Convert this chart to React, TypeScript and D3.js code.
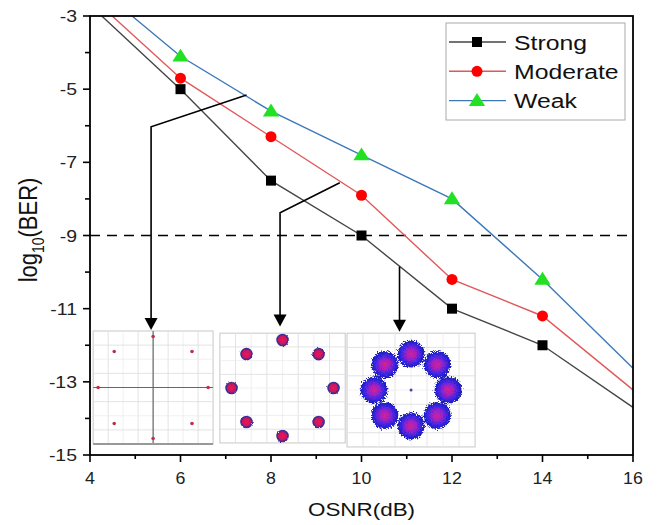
import React from 'react';
import * as d3 from 'd3';

// measured points (OSNR in dB, log10 BER)
const osnr = [6, 8, 10, 12, 14];
const strongBER = [-5, -7.5, -9, -11, -12];
const moderateBER = [-4.7, -6.3, -7.9, -10.2, -11.2];
const weakBER = [-4.1, -5.6, -6.8, -8, -10.2];
// where each curve leaves the frame: top edge (OSNR at -3) and right edge (BER at 16 dB)
const entryOSNR = [4.26, 4.49, 4.93];
const exitBER = [-13.7, -13.22, -12.63];
const seriesNames = ['Strong', 'Moderate', 'Weak'];

const xTicks = [4, 6, 8, 10, 12, 14, 16];
const xMinor = [5, 7, 9, 11, 13, 15];
const yTicks = [-3, -5, -7, -9, -11, -13, -15];
const yMinor = [-4, -6, -8, -10, -12, -14];
const threshold = -9;
const psk8 = [0, 45, 90, 135, 180, 225, 270, 315];

const W = 664;
const H = 525;
const x = d3.scaleLinear().domain([4, 16]).range([90, 633]);
const y = d3.scaleLinear().domain([-15, -3]).range([455, 16]);

const lineColors = ['#454545', '#e0585a', '#3d78b9'];
const markerColors = ['#000000', '#ff0000', '#22e022'];
const font = '"Liberation Sans", Arial, sans-serif';
const SX = 1.18; // the original figure is a little wider than tall

// arrows from the curves to the constellation insets (data units)
const arrows = [
  { from: [7.46, -5.16], corner: [5.35, -6.03], tip: -11.58 },
  { from: [9.52, -7.56], corner: [8.2, -8.38], tip: -11.49 },
  { from: [10.84, -9.85], corner: [10.84, -9.85], tip: -11.63 },
];

// constellation insets (data units for the box, px for ring radius)
const insets = [
  { x0: 4.07, x1: 6.72, y0: -11.61, y1: -14.7, rx: 55, ry: 51, kind: 'dot' },
  { x0: 6.87, x1: 9.64, y0: -11.67, y1: -14.67, rx: 51, ry: 48, kind: 'small' },
  { x0: 9.68, x1: 12.51, y0: -11.67, y1: -14.78, rx: 37, ry: 36, kind: 'big' },
];

function Marker({ i, cx, cy }: { i: number; cx: number; cy: number }) {
  if (i === 0) return <rect x={cx - 5} y={cy - 5} width={10} height={10} fill={markerColors[0]} />;
  if (i === 1) return <circle cx={cx} cy={cy} r={5.5} fill={markerColors[1]} />;
  const sym = d3.symbol(d3.symbolTriangle, 95)();
  return <path d={sym || ''} transform={`translate(${cx},${cy + 1}) scale(1.1,1)`} fill={markerColors[2]} />;
}

function Inset({ inset }: { inset: (typeof insets)[number] }) {
  const bx0 = x(inset.x0);
  const bx1 = x(inset.x1);
  const by0 = y(inset.y0);
  const by1 = y(inset.y1);
  const w = bx1 - bx0;
  const h = by1 - by0;
  const cx = bx0 + w / 2;
  const cy = by0 + h / 2;
  const gx = d3.range(1, 8).map((k) => bx0 + (w * k) / 8);
  const gy = d3.range(1, 8).map((k) => by0 + (h * k) / 8);
  const pts = psk8.map((a) => {
    const r = (a * Math.PI) / 180;
    return [cx + inset.rx * Math.cos(r), cy - inset.ry * Math.sin(r)];
  });
  return (
    <g>
      <rect x={bx0} y={by0} width={w} height={h} fill="#fff" stroke="#c8c8c8" strokeWidth={1} />
      {gx.map((v, k) => (
        <line key={'gx' + k} x1={v} x2={v} y1={by0} y2={by1} stroke={k % 2 ? '#ececec' : '#dcdcdc'} strokeWidth={0.8} />
      ))}
      {gy.map((v, k) => (
        <line key={'gy' + k} x1={bx0} x2={bx1} y1={v} y2={v} stroke={k % 2 ? '#ececec' : '#dcdcdc'} strokeWidth={0.8} />
      ))}
      {inset.kind === 'dot' && (
        <g>
          <line x1={bx0} x2={bx1} y1={cy} y2={cy} stroke="#666" strokeWidth={1.2} />
          <line x1={cx} x2={cx} y1={by0} y2={by1} stroke="#666" strokeWidth={1.2} />
          <line x1={bx0} x2={bx1} y1={by1} y2={by1} stroke="#999" strokeWidth={2} />
          {pts.map((p, k) => (
            <circle key={k} cx={p[0]} cy={p[1]} r={1.8} fill="#c0304a" />
          ))}
        </g>
      )}
      {inset.kind === 'small' &&
        pts.map((p, k) => (
          <circle key={k} cx={p[0]} cy={p[1]} r={5.5} fill="url(#smallBlob)" stroke="#3b2f96" strokeWidth={1.6} filter="url(#roughSmall)" />
        ))}
      {inset.kind === 'big' && (
        <g filter="url(#rough)">
          {pts.map((p, k) => (
            <circle key={k} cx={p[0]} cy={p[1]} r={13.5} fill="url(#bigBlob)" />
          ))}
        </g>
      )}
      {inset.kind === 'big' && <circle cx={cx} cy={cy} r={1.5} fill="#4444aa" />}
    </g>
  );
}

export default function App() {
  const series = [strongBER, moderateBER, weakBER].map((vals, i) => {
    const pts: [number, number][] = [[entryOSNR[i], -3], ...osnr.map((o, k) => [o, vals[k]] as [number, number]), [16, exitBER[i]]];
    return { name: seriesNames[i], vals, pts };
  });
  const line = d3
    .line<[number, number]>()
    .x((d) => x(d[0]))
    .y((d) => y(d[1]));

  return (
    <svg width={W} height={H} style={{ position: 'absolute', left: 0, top: 0, background: '#fff' }} fontFamily={font}>
      <defs>
        <radialGradient id="bigBlob">
          <stop offset="0%" stopColor="#d8208a" />
          <stop offset="40%" stopColor="#9a22c8" />
          <stop offset="75%" stopColor="#3026e6" />
          <stop offset="100%" stopColor="#1c1cb0" />
        </radialGradient>
        <radialGradient id="smallBlob">
          <stop offset="0%" stopColor="#e8145e" />
          <stop offset="100%" stopColor="#c0145a" />
        </radialGradient>
        <filter id="rough" x="-20%" y="-20%" width="140%" height="140%">
          <feTurbulence type="fractalNoise" baseFrequency="0.8" numOctaves={2} seed={4} result="n" />
          <feDisplacementMap in="SourceGraphic" in2="n" scale={7} xChannelSelector="R" yChannelSelector="G" />
        </filter>
        <filter id="roughSmall" x="-30%" y="-30%" width="160%" height="160%">
          <feTurbulence type="fractalNoise" baseFrequency="1.2" numOctaves={1} seed={2} result="n" />
          <feDisplacementMap in="SourceGraphic" in2="n" scale={2.5} xChannelSelector="R" yChannelSelector="G" />
        </filter>
      </defs>

      {/* threshold */}
      <line x1={x(4)} x2={x(16)} y1={y(threshold)} y2={y(threshold)} stroke="#000" strokeWidth={1.6} strokeDasharray="10 7" />

      {/* curves */}
      {series.map((s, i) => (
        <path key={s.name} d={line(s.pts) || ''} fill="none" stroke={lineColors[i]} strokeWidth={1.4} />
      ))}
      {series.map((s, i) =>
        s.vals.map((v, k) => <Marker key={s.name + k} i={i} cx={x(osnr[k])} cy={y(v)} />)
      )}

      {/* arrows */}
      {arrows.map((a, k) => {
        const fx = x(a.from[0]);
        const fy = y(a.from[1]);
        const cx = x(a.corner[0]);
        const cy = y(a.corner[1]);
        const ty = y(a.tip);
        return (
          <g key={'a' + k}>
            <polyline points={`${fx},${fy} ${cx},${cy} ${cx},${ty - 10}`} fill="none" stroke="#000" strokeWidth={1.6} />
            <path d={`M${cx - 6.5},${ty - 12} L${cx + 6.5},${ty - 12} L${cx},${ty} Z`} fill="#000" />
          </g>
        );
      })}

      {/* insets */}
      {insets.map((s, k) => (
        <Inset key={k} inset={s} />
      ))}

      {/* frame and axes */}
      <rect x={x(4)} y={y(-3)} width={x(16) - x(4)} height={y(-15) - y(-3)} fill="none" stroke="#000" strokeWidth={1.8} />

      {xTicks.map((t) => (
        <g key={'xt' + t}>
          <line x1={x(t)} x2={x(t)} y1={y(-15)} y2={y(-15) + 7} stroke="#000" strokeWidth={1.6} />
          <text transform={`translate(${x(t)},${y(-15) + 29}) scale(1.08,1)`} textAnchor="middle" fontSize={16.5} fill="#222">
            {t}
          </text>
        </g>
      ))}
      {xMinor.map((t) => (
        <line key={'xm' + t} x1={x(t)} x2={x(t)} y1={y(-15)} y2={y(-15) + 4} stroke="#000" strokeWidth={1.6} />
      ))}
      {yTicks.map((t) => (
        <g key={'yt' + t}>
          <line x1={x(4) - 7} x2={x(4)} y1={y(t)} y2={y(t)} stroke="#000" strokeWidth={1.6} />
          <text transform={`translate(${x(4) - 13},${y(t) + 6}) scale(${SX},1)`} textAnchor="end" fontSize={16.5} fill="#222">
            {t}
          </text>
        </g>
      ))}
      {yMinor.map((t) => (
        <line key={'ym' + t} x1={x(4) - 5} x2={x(4)} y1={y(t)} y2={y(t)} stroke="#000" strokeWidth={1.6} />
      ))}

      {/* axis titles */}
      <text transform={`translate(${(x(4) + x(16)) / 2},516) scale(${SX},1)`} textAnchor="middle" fontSize={19} fill="#111">
        OSNR(dB)
      </text>
      <text transform={`translate(37,230) scale(${SX},1) rotate(-90)`} textAnchor="middle" fontSize={22} fill="#111">
        log
        <tspan fontSize={14} dy={6}>
          10
        </tspan>
        <tspan dy={-6}>(BER)</tspan>
      </text>

      {/* legend */}
      <rect x={446} y={23} width={179} height={97} fill="#fff" stroke="#aaa" strokeWidth={1} />
      {seriesNames.map((n, i) => {
        const ly = 42 + i * 29.3;
        return (
          <g key={'lg' + n}>
            <line x1={449} x2={506} y1={ly} y2={ly} stroke={lineColors[i]} strokeWidth={1.4} />
            <Marker i={i} cx={477} cy={ly} />
            <text transform={`translate(514,${ly + 7.5}) scale(${SX},1)`} fontSize={21} fill="#111">
              {n}
            </text>
          </g>
        );
      })}
    </svg>
  );
}
